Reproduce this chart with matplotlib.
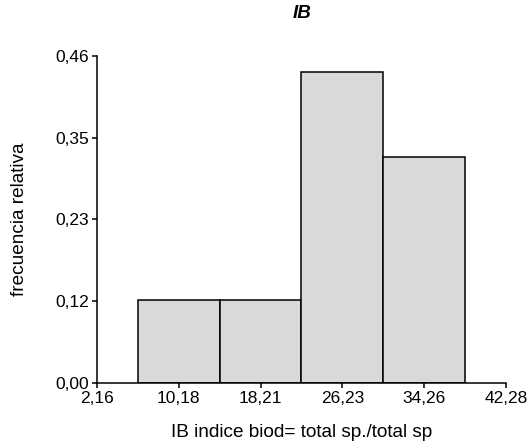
import matplotlib.pyplot as plt
from matplotlib.ticker import FixedLocator, FixedFormatter

# histogram bins (edges) and relative frequencies
bin_edges = [6.17, 14.20, 22.22, 30.24, 38.27]
rel_freq = [0.117, 0.117, 0.4375, 0.318]
x_ticks = [2.16, 10.18, 18.21, 26.23, 34.26, 42.28]
x_labels = ['2,16', '10,18', '18,21', '26,23', '34,26', '42,28']
y_ticks = [0.0, 0.115, 0.23, 0.345, 0.46]
y_labels = ['0,00', '0,12', '0,23', '0,35', '0,46']

plt.rcParams['font.family'] = ['Liberation Sans', 'DejaVu Sans']

fig = plt.figure(figsize=(5.28, 4.48), dpi=100)
ax = fig.add_axes([0.1837, 0.1444, 0.958 - 0.1837, 0.8757 - 0.1444])

widths = [bin_edges[i + 1] - bin_edges[i] for i in range(len(rel_freq))]
ax.bar(bin_edges[:-1], rel_freq, width=widths, align='edge',
       color='#d9d9d9', edgecolor='black', linewidth=1.1)

ax.set_xlim(x_ticks[0], x_ticks[-1])
ax.set_ylim(y_ticks[0], y_ticks[-1])
ax.xaxis.set_major_locator(FixedLocator(x_ticks))
ax.xaxis.set_major_formatter(FixedFormatter(x_labels))
ax.yaxis.set_major_locator(FixedLocator(y_ticks))
ax.yaxis.set_major_formatter(FixedFormatter(y_labels))

for s in ['top', 'right']:
    ax.spines[s].set_visible(False)
for s in ['left', 'bottom']:
    ax.spines[s].set_linewidth(1.1)
ax.tick_params(direction='out', length=3.6, width=1.1, labelsize=12.5, pad=2)

ax.set_xlabel('IB indice biod= total sp./total sp', fontsize=13.7, va='center')
ax.xaxis.set_label_coords(0.5, -0.149)
ax.set_ylabel('frecuencia relativa', fontsize=13.7, va='center')
ax.yaxis.set_label_coords(-0.19, 0.5)
fig.text(302 / 528, 1 - 14 / 448, 'IB', ha='center', va='center', fontsize=13.5,
         fontweight='bold', fontstyle='italic')

fig.savefig('out.png', dpi=100)
